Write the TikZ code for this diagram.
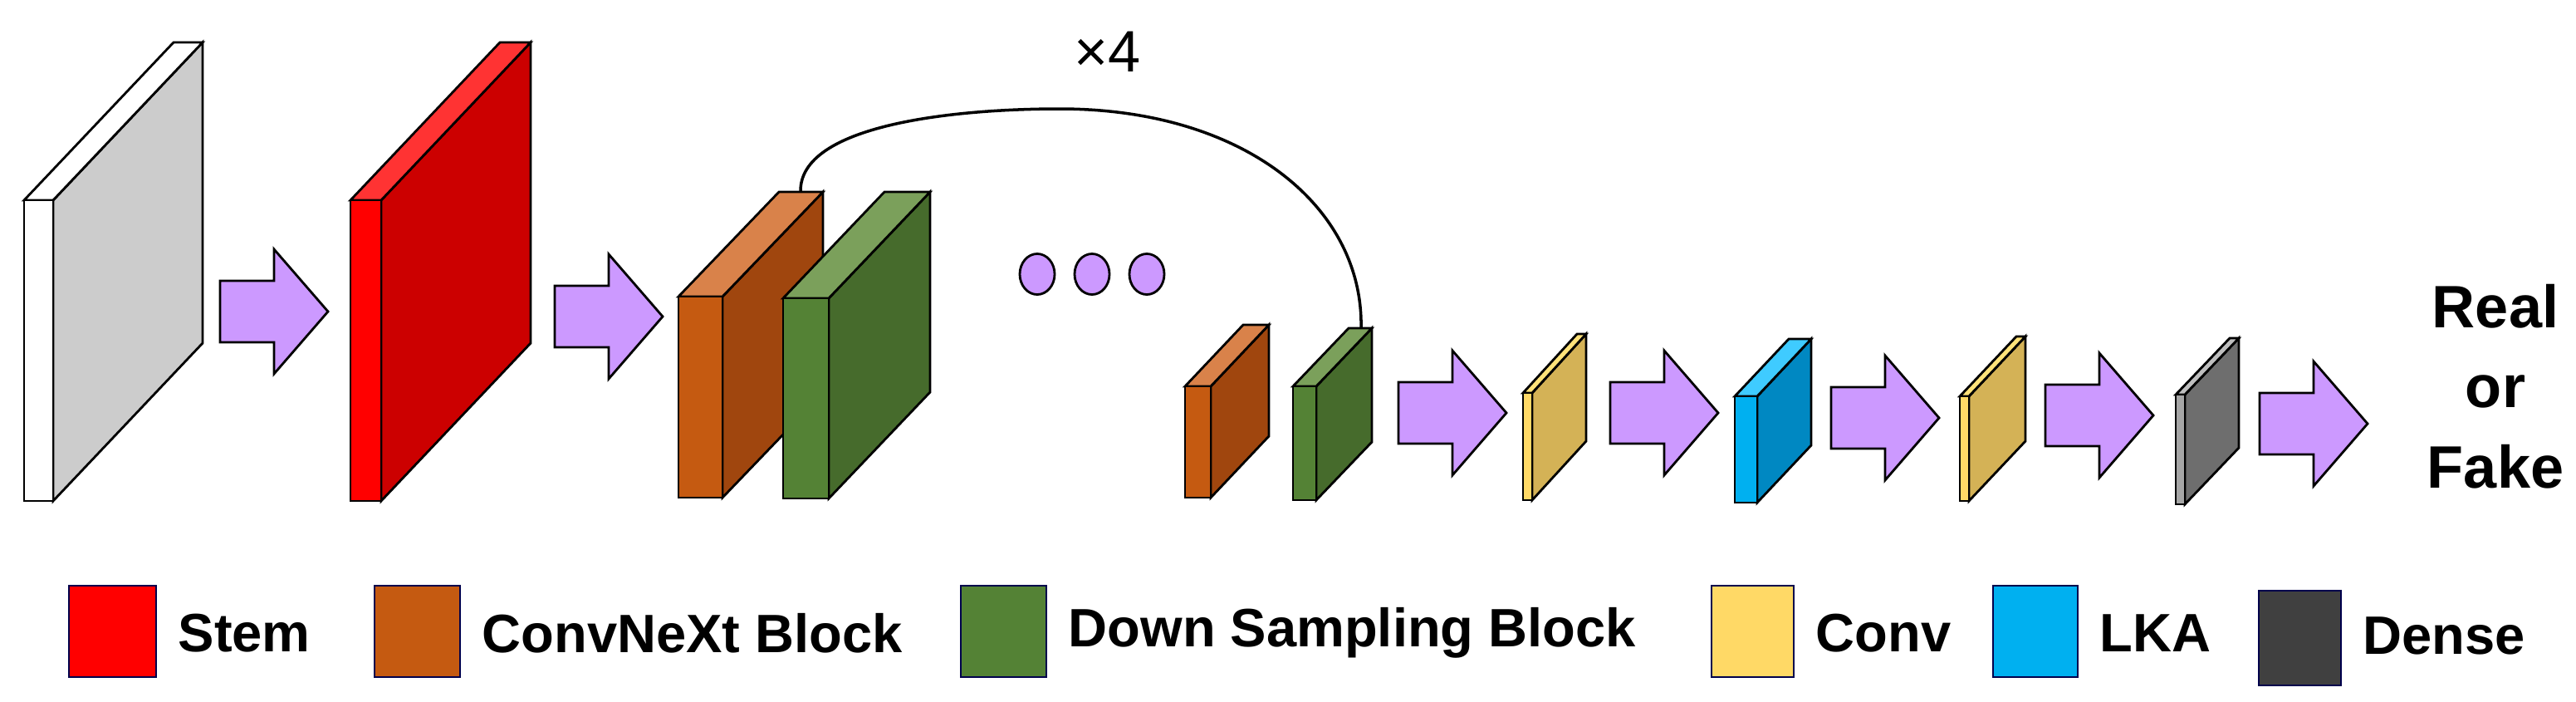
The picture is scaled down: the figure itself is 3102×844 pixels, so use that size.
\documentclass[tikz,border=0pt]{standalone}
\usepackage{fontspec}
\setmainfont{Liberation Sans}
\usetikzlibrary{shapes.geometric}
\begin{document}
\begin{tikzpicture}[x=0.01cm,y=-0.01cm,line join=miter]
\definecolor{arrowc}{HTML}{CC99FF}
\definecolor{redF}{HTML}{FF0000}\definecolor{redT}{HTML}{FF3333}\definecolor{redS}{HTML}{CC0000}
\definecolor{orF}{HTML}{C55A11}\definecolor{orT}{HTML}{D9824A}\definecolor{orS}{HTML}{A0460E}
\definecolor{grF}{HTML}{548235}\definecolor{grT}{HTML}{7BA05B}\definecolor{grS}{HTML}{466B2C}
\definecolor{yeF}{HTML}{FFD966}\definecolor{yeT}{HTML}{FFE27A}\definecolor{yeS}{HTML}{D4B256}
\definecolor{blF}{HTML}{00B0F0}\definecolor{blT}{HTML}{3FCBFF}\definecolor{blS}{HTML}{0088C2}
\definecolor{gyF}{HTML}{A6A6A6}\definecolor{gyT}{HTML}{BFBFBF}\definecolor{gyS}{HTML}{6E6E6E}
\definecolor{dkF}{HTML}{404040}
\tikzset{edge/.style={draw=black,line width=0.8pt},
  lbl/.style={font=\fontsize{18.5}{20}\selectfont\bfseries,anchor=west,inner sep=0pt},
  leg/.style={draw=black!70!blue,line width=0.5pt}}
\useasboundingbox (0,0) rectangle (3102,844);
% #1 x, #2 ytop, #3 ybot, #4 w, #5 dx, #6 dd, #7 front, #8 top, #9 side
\newcommand\myslab[9]{%
  \filldraw[edge,fill=#9] ({#1+#4},#2) -- ++(#5,-#6) -- ({#1+#4+#5},{#3-#6}) -- ({#1+#4},#3) -- cycle;
  \filldraw[edge,fill=#8] (#1,#2) -- ++(#5,-#6) -- ++(#4,0) -- ({#1+#4},#2) -- cycle;
  \filldraw[edge,fill=#7] (#1,#2) rectangle ({#1+#4},#3);}
% #1 x start, #2 y center
\newcommand\myarrow[2]{%
  \filldraw[edge,fill=arrowc] (#1,{#2-37}) -- ++(65,0) -- ++(0,-38) -- ({#1+130},#2) -- ({#1+65},{#2+75}) -- ++(0,-38) -- ({#1},{#2+37}) -- cycle;}
\myslab{29}{241}{603}{35}{180}{190}{white}{white}{black!20}
\myarrow{265}{375}
\myslab{422}{241}{603}{37}{180}{190}{redF}{redT}{redS}
\myarrow{668}{381}
\myslab{817}{357}{599}{53}{121}{126}{orF}{orT}{orS}
\myslab{943}{359}{600}{55}{122}{128}{grF}{grT}{grS}
\foreach \cx/\n in {1249/d1,1315/d2,1381/d3}
  \node[edge,fill=arrowc,ellipse,minimum width=0.42cm,minimum height=0.49cm,inner sep=0pt] (\n) at (\cx,330) {};
\myslab{1427}{465}{599}{31}{70}{74}{orF}{orT}{orS}
\myslab{1557}{465}{602}{28}{67}{70}{grF}{grT}{grS}
\coordinate (cs) at (964,231);
\coordinate (ce) at (1639,395);
\draw[line width=1pt] (cs) .. controls (962,150) and (1150,131) .. (1276,131) .. controls (1500,131) and (1642,250) .. (ce);
\node[font=\fontsize{20}{22}\selectfont] (x4) at (1334,62) {×4};
\myarrow{1684}{497}
\myslab{1834}{473}{602}{11}{65}{71}{yeF}{yeT}{yeS}
\myarrow{1939}{497}
\myslab{2089}{477}{605}{27}{65}{69}{blF}{blT}{blS}
\myarrow{2205}{503}
\myslab{2360}{477}{603}{11}{68}{72}{yeF}{yeT}{yeS}
\myarrow{2463}{500}
\myslab{2620}{475}{607}{11}{65}{68}{gyF}{gyT}{gyS}
\myarrow{2721}{510}
\node[font=\fontsize{20.5}{27.5}\selectfont\bfseries,align=center] (out) at (3005,465) {Real\\or\\Fake};
% legend
\foreach \xa/\xb/\c/\t/\n in {83/188/redF/Stem/l1,451/554/orF/ConvNeXt Block/l2,1157/1260/grF/Down Sampling Block/l3,2061/2160/yeF/Conv/l4,2400/2502/blF/LKA/l5}{
  \filldraw[leg,fill=\c] (\xa,705) rectangle (\xb,815);
  \node[lbl] (\n) at (\xb+26,762) {\t};}
\filldraw[leg,fill=dkF] (2720,711) rectangle (2819,825);
\node[lbl] (l6) at (2845,765) {Dense};
\end{tikzpicture}
\end{document}
